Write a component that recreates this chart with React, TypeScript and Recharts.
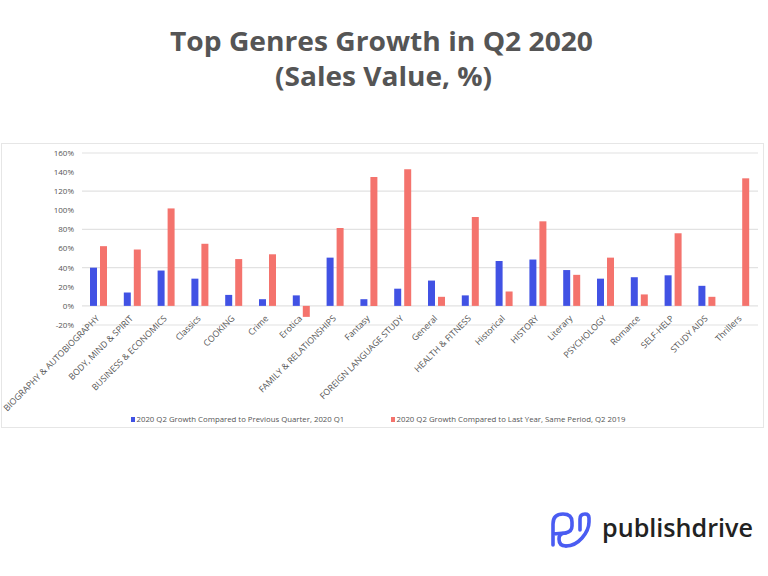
import React from "react";
import { BarChart, Bar, XAxis, YAxis, CartesianGrid, Legend } from "recharts";

const categories = [
  "BIOGRAPHY & AUTOBIOGRAPHY",
  "BODY, MIND & SPIRIT",
  "BUSINESS & ECONOMICS",
  "Classics",
  "COOKING",
  "Crime",
  "Erotica",
  "FAMILY & RELATIONSHIPS",
  "Fantasy",
  "FOREIGN LANGUAGE STUDY",
  "General",
  "HEALTH & FITNESS",
  "Historical",
  "HISTORY",
  "Literary",
  "PSYCHOLOGY",
  "Romance",
  "SELF-HELP",
  "STUDY AIDS",
  "Thrillers",
];

const vsPrevQuarter: (number | null)[] = [
  40, 14, 37, 28.5, 11.5, 7, 11, 50.5, 7, 18, 26.5, 11, 47, 48.5, 37.5, 28.5, 30, 32, 21, null,
];

const vsLastYear: number[] = [
  62.5, 59, 102, 65, 49, 54, -11.5, 81.5, 135, 143, 9.5, 93, 15, 88.5, 32.5, 50.5, 12, 76, 9.5, 133.5,
];

const yTicks = [-20, 0, 20, 40, 60, 80, 100, 120, 140, 160];

const seriesKeys = ["q1", "q2019"];
const seriesNames = [
  "2020 Q2 Growth Compared to Previous Quarter, 2020 Q1",
  "2020 Q2 Growth Compared to Last Year, Same Period, Q2 2019",
];

const BLUE = "#4152E4";
const RED = "#F4736D";

const data = categories.map((c, i) => ({
  name: c,
  q1: vsPrevQuarter[i],
  q2019: vsLastYear[i],
}));

const FONT = "'Open Sans', 'Noto Sans', sans-serif";

const XTick = (props: any) => {
  const { x, y, payload } = props;
  return (
    <g transform={`translate(${x + 1},${y - 6})`}>
      <text
        transform="rotate(-45)"
        textAnchor="end"
        fontSize={8.7}
        fill="#555555"
        fontFamily={FONT}
      >
        {payload.value}
      </text>
    </g>
  );
};

const LegendContent = (props: any) => {
  const payload = [...(props.payload || [])].sort(
    (a: any, b: any) => seriesKeys.indexOf(a.dataKey) - seriesKeys.indexOf(b.dataKey)
  );
  return (
    <div style={{ display: "flex", fontFamily: FONT, fontSize: 7.8, color: "#555555" }}>
      {payload.map((p: any, i: number) => (
        <div
          key={i}
          style={{ display: "flex", alignItems: "center", width: 260 }}
        >
          <span
            style={{
              display: "inline-block",
              width: 4,
              height: 5,
              background: p.color,
              marginRight: 1.5,
            }}
          />
          <span style={{ whiteSpace: "nowrap" }}>{p.value}</span>
        </div>
      ))}
    </div>
  );
};

export default function App() {
  return (
    <div
      style={{
        position: "absolute",
        left: 0,
        top: 0,
        width: 768,
        height: 576,
        background: "#ffffff",
        overflow: "hidden",
      }}
    >
      <svg
        width={768}
        height={110}
        style={{ position: "absolute", left: 0, top: 0 }}
      >
        <text
          x={170}
          y={51}
          fontSize={27}
          fontWeight={700}
          fill="#555555"
          fontFamily={FONT}
          textLength={423}
          lengthAdjust="spacingAndGlyphs"
        >
          Top Genres Growth in Q2 2020
        </text>
        <text
          x={275}
          y={86}
          fontSize={27}
          fontWeight={700}
          fill="#555555"
          fontFamily={FONT}
          textLength={217}
          lengthAdjust="spacingAndGlyphs"
        >
          (Sales Value, %)
        </text>
      </svg>

      <div
        style={{
          position: "absolute",
          left: 1,
          top: 143,
          width: 761,
          height: 283,
          border: "1px solid #e6e6e6",
        }}
      />

      <div style={{ position: "absolute", left: 0, top: 143 }}>
        <BarChart
          width={764}
          height={285}
          data={data}
          margin={{ top: 10, right: 6, bottom: 0, left: 0 }}
          barSize={7}
          barGap={3}
        >
          <CartesianGrid vertical={false} stroke="#e2e2e2" strokeWidth={1.2} />
          <XAxis
            dataKey="name"
            interval={0}
            axisLine={false}
            tickLine={false}
            tickSize={0}
            tickMargin={0}
            height={103}
            tick={<XTick />}
          />
          <YAxis
            width={82}
            domain={[-20, 160]}
            ticks={yTicks}
            axisLine={false}
            tickLine={false}
            tickFormatter={(v: number) => `${v}%`}
            tick={{ fontSize: 8, fill: "#555555", fontFamily: FONT }}
          />
          <Legend
            layout="horizontal"
            verticalAlign="middle"
            content={<LegendContent />}
            wrapperStyle={{ position: "absolute", left: 131, top: 271, width: 560 }}
          />
          <Bar dataKey="q1" name={seriesNames[0]} fill={BLUE} isAnimationActive={false} />
          <Bar dataKey="q2019" name={seriesNames[1]} fill={RED} isAnimationActive={false} />
        </BarChart>
      </div>

      <svg
        width={268}
        height={106}
        style={{ position: "absolute", left: 500, top: 470 }}
        viewBox="500 470 268 106"
      >
        <g fill="none" stroke="#4A5CF2" strokeWidth={3.6} strokeLinejoin="round" strokeLinecap="round">
          <path d="M553 545 L553 524 Q553 514 563 514 Q572 514 572 522 L572 526 Q572 532 565 533 L553 534" />
          <path d="M566 546 Q575 546 582 538 Q589 530 589 522 L589 518 Q589 514 585 514 Q580 514 580 519 L580 530" />
          <path d="M566 546 Q559 546 559 539 Q559 533 566 533" />
        </g>
        <text
          x={602}
          y={537}
          fontSize={25}
          fontWeight={600}
          fill="#222222"
          fontFamily={FONT}
          textLength={151}
          lengthAdjust="spacingAndGlyphs"
        >
          publishdrive
        </text>
      </svg>
    </div>
  );
}
